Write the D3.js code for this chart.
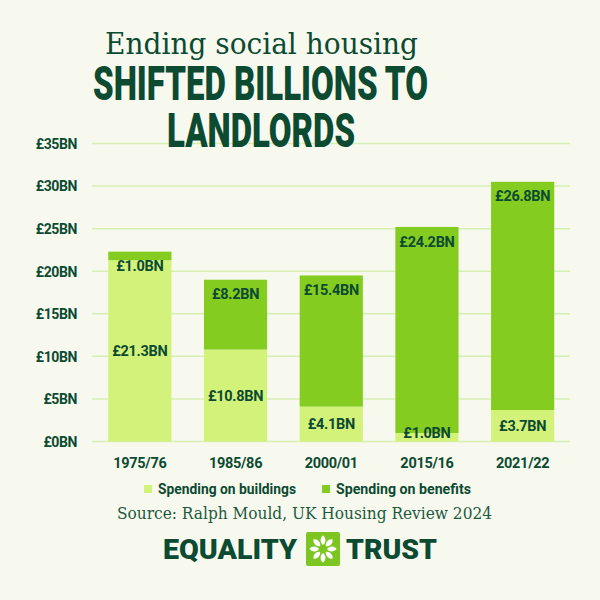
<!DOCTYPE html>
<html><head><meta charset="utf-8">
<script src="https://cdn.jsdelivr.net/npm/d3@7"></script>
<style>
html,body{margin:0;padding:0;background:#f7f9ee;}
svg{display:block;}
</style></head>
<body>
<script>
const categories = ["1975/76","1985/86","2000/01","2015/16","2021/22"];
const buildings = [21.3, 10.8, 4.1, 1.0, 3.7];
const benefits = [1.0, 8.2, 15.4, 24.2, 26.8];
const yTicks = [0,5,10,15,20,25,30,35];
const seriesNames = ["Spending on buildings","Spending on benefits"];

const W = 600, H = 600;
const dark = "#0c4a32", light = "#d2f27a", mid = "#84cc1f", grid = "#d8efb4";

const svg = d3.select("body").append("svg").attr("width", W).attr("height", H);
svg.append("rect").attr("width", W).attr("height", H).attr("fill", "#f7f9ee");

const x = d3.scaleBand().domain(categories).range([92, 570.5]).paddingInner(0.34).paddingOuter(0.17);
const y = d3.scaleLinear().domain([0,35]).range([441.5, 143.5]);

// gridlines
svg.append("g").selectAll("line").data(yTicks).join("line")
  .attr("x1", 92).attr("x2", 570).attr("y1", d=>y(d)).attr("y2", d=>y(d))
  .attr("stroke", grid).attr("stroke-width", 1.5);

// y axis labels
const yAxis = d3.axisLeft(y).tickValues(yTicks).tickSize(0).tickPadding(0).tickFormat(d=>"£"+d+"BN");
const yg = svg.append("g").attr("transform","translate(77,0)").call(yAxis);
yg.attr("font-size", null).attr("font-family", null);
yg.select(".domain").remove();
yg.selectAll("text").attr("fill", dark).style("font-family","Roboto").style("font-weight","700")
  .style("font-size","14px").attr("dy","0.35em").attr("letter-spacing","-0.4");

// bars
const data = categories.map((c,i)=>({c, b:buildings[i], n:benefits[i]}));
const g = svg.append("g");
g.selectAll(".bb").data(data).join("rect")
  .attr("x", d=>x(d.c)).attr("width", x.bandwidth())
  .attr("y", d=>y(d.b)).attr("height", d=>y(0)-y(d.b)).attr("fill", light);
g.selectAll(".bn").data(data).join("rect")
  .attr("x", d=>x(d.c)).attr("width", x.bandwidth())
  .attr("y", d=>y(d.b+d.n)).attr("height", d=>y(d.b)-y(d.b+d.n)).attr("fill", mid);

const fmt = v => "£"+v.toFixed(1)+"BN";
const lbl = (sel)=>sel.attr("text-anchor","middle").attr("fill",dark).style("font-family","Roboto")
  .style("font-weight","700").style("font-size","14.5px").attr("dy","0.35em").attr("letter-spacing","-0.3");
g.selectAll(".lb").data(data).join("text")
  .attr("x", d=>x(d.c)+x.bandwidth()/2)
  .attr("y", d=>Math.min((y(0)+y(d.b))/2, y(0)-8.5))
  .text(d=>fmt(d.b)).call(lbl);
g.selectAll(".ln").data(data).join("text")
  .attr("x", d=>x(d.c)+x.bandwidth()/2)
  .attr("y", d=>y(d.b+d.n)+14.5)
  .text(d=>fmt(d.n)).call(lbl);

// x axis labels
const xAxis = d3.axisBottom(x).tickSize(0).tickPadding(0);
const xg = svg.append("g").attr("transform","translate(0,463)").call(xAxis);
xg.attr("font-size", null).attr("font-family", null);
xg.select(".domain").remove();
xg.selectAll("text").attr("fill",dark).style("font-family","Roboto").style("font-weight","700")
  .style("font-size","14.5px").attr("dy","0.35em").attr("y",0).attr("letter-spacing","-0.3");

// legend
const leg = [{name:seriesNames[0], c:light, x:144, tl:138},{name:seriesNames[1], c:mid, x:322, tl:135}];
const lg = svg.append("g");
lg.selectAll("rect").data(leg).join("rect").attr("x",d=>d.x).attr("y",485).attr("width",8).attr("height",8).attr("fill",d=>d.c);
lg.selectAll("text").data(leg).join("text").attr("x",d=>d.x+14).attr("y",489).attr("dy","0.35em")
  .attr("fill",dark).style("font-family","Roboto").style("font-weight","700").style("font-size","15px")
  .attr("textLength",d=>d.tl).attr("lengthAdjust","spacingAndGlyphs").text(d=>d.name);

// source
svg.append("text").attr("x",117).attr("y",519).attr("fill","#1d5a40")
  .attr("font-family","DejaVu Serif, serif").attr("font-size",16)
  .attr("textLength",375).attr("lengthAdjust","spacingAndGlyphs")
  .text("Source: Ralph Mould, UK Housing Review 2024");

// title
svg.append("text").attr("x",105).attr("y",54).attr("fill",dark)
  .attr("font-family","DejaVu Serif, serif").attr("font-size",30)
  .attr("textLength",313).attr("lengthAdjust","spacingAndGlyphs").text("Ending social housing");
const head = [{t:"SHIFTED BILLIONS TO", x:93, y:100, w:335},{t:"LANDLORDS", x:167, y:147, w:188}];
svg.selectAll(".hd").data(head).join("text").attr("x",d=>d.x).attr("y",d=>d.y).attr("fill",dark)
  .attr("font-family","Roboto").attr("font-weight",900).attr("font-size",48)
  .attr("textLength",d=>d.w).attr("lengthAdjust","spacingAndGlyphs").text(d=>d.t);

// logo
svg.append("text").attr("x",163).attr("y",559).attr("fill",dark).attr("font-family","Roboto").attr("font-weight",900)
  .attr("font-size",28).attr("textLength",134).attr("lengthAdjust","spacingAndGlyphs").text("EQUALITY");
svg.append("text").attr("x",346).attr("y",559).attr("fill",dark).attr("font-family","Roboto").attr("font-weight",900)
  .attr("font-size",28).attr("textLength",91).attr("lengthAdjust","spacingAndGlyphs").text("TRUST");
const lgx = 306, lgy = 532, ls = 34;
svg.append("rect").attr("x",lgx).attr("y",lgy).attr("width",ls).attr("height",ls).attr("rx",2).attr("fill","#7dc622");
const petals = d3.range(8);
svg.append("g").attr("transform",`translate(${lgx+ls/2},${lgy+ls/2})`).selectAll("path").data(petals).join("path")
  .attr("d","M0,-4 C3,-6 3.5,-11 0,-13.5 C-3.5,-11 -3,-6 0,-4 Z")
  .attr("transform",d=>`rotate(${d*45})`).attr("fill","#ffffff");
</script>
</body></html>
